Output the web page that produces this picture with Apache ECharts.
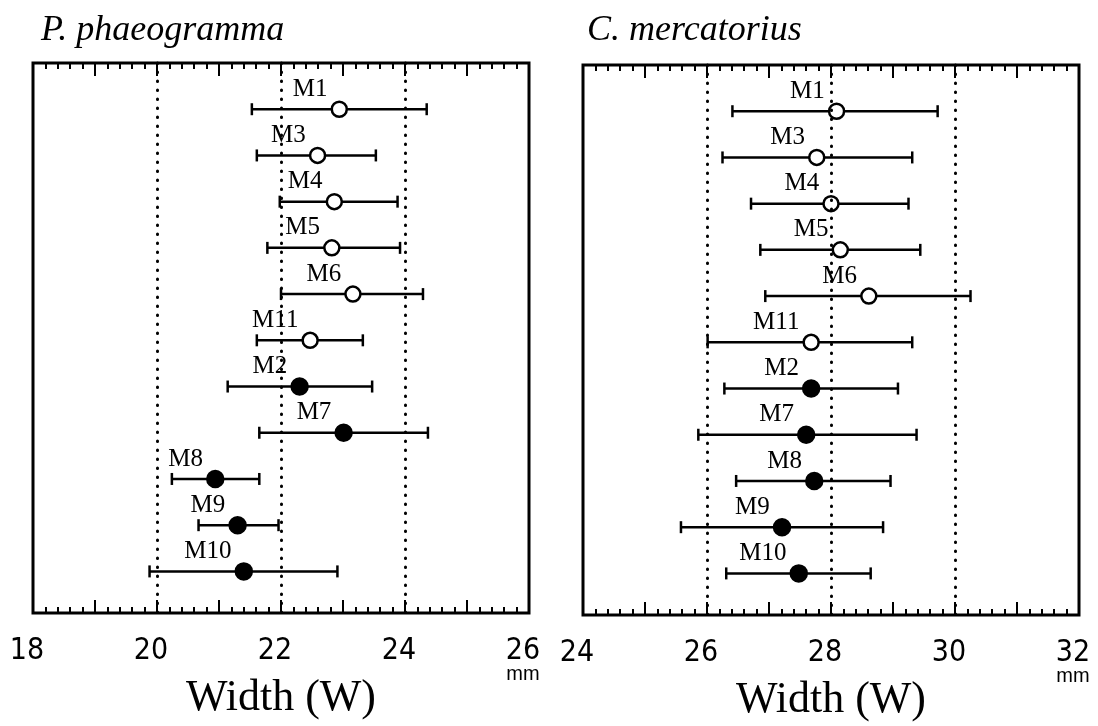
<!DOCTYPE html>
<html>
<head>
<meta charset="utf-8">
<script src="https://cdn.jsdelivr.net/npm/echarts@6/dist/echarts.min.js"></script>
<style>html,body{margin:0;padding:0;background:#fff;}#c{width:1098px;height:726px;}</style>
</head>
<body>
<div id="c"></div>
<script>
// ---- data ----
const rows = ['M1','M3','M4','M5','M6','M11','M2','M7','M8','M9','M10'];
const filled = [false,false,false,false,false,false,true,true,true,true,true];

const phaeoMean = [22.94, 22.59, 22.86, 22.82, 23.16, 22.47, 22.30, 23.01, 20.94, 21.30, 21.40];
const phaeoLow  = [21.53, 21.61, 21.98, 21.78, 22.00, 21.61, 21.14, 21.65, 20.24, 20.67, 19.88];
const phaeoHigh = [24.35, 23.53, 23.88, 23.92, 24.29, 23.32, 23.47, 24.37, 21.65, 21.96, 22.91];

const mercMean = [28.09, 27.77, 28.00, 28.15, 28.61, 27.68, 27.68, 27.60, 27.73, 27.21, 27.48];
const mercLow  = [26.41, 26.25, 26.71, 26.86, 26.94, 26.01, 26.28, 25.86, 26.47, 25.58, 26.31];
const mercHigh = [29.72, 29.31, 29.25, 29.44, 30.25, 29.31, 29.08, 29.38, 28.96, 28.84, 28.64];

const titles = ['P. phaeogramma', 'C. mercatorius'];
const xRanges = [[18, 26], [24, 32]];
const refLines = [[20, 22, 24], [26, 28, 30]];
const axisName = 'Width (W)';
const unitLabel = 'mm';

// ---- chart ----
const chart = echarts.init(document.getElementById('c'));
const SERIF = "'Liberation Serif', 'Times New Roman', serif";
const SANS = "'Liberation Sans Narrow', 'DejaVu Sans Condensed', 'Liberation Sans', sans-serif";

const grids = [
  {left: 33, right: 1098 - 529, top: 63, height: 550},
  {left: 583, right: 1098 - 1079, top: 65, height: 550}
];
grids.forEach(g => Object.assign(g, {
  show: true, borderColor: '#000', borderWidth: 3, backgroundColor: 'transparent',
  containLabel: false, outerBoundsMode: 'none'
}));

function xAxisFor(gi, pos) {
  const [mn, mx] = xRanges[gi];
  return {
    type: 'value', gridIndex: gi, position: pos, min: mn, max: mx, interval: 1,
    axisLine: {show: false, onZero: false},
    axisTick: {show: true, inside: true, length: 13, lineStyle: {color: '#000', width: 2}},
    minorTick: {show: true, splitNumber: 5, length: 6, lineStyle: {color: '#000', width: 2}},
    splitLine: {show: false}, minorSplitLine: {show: false},
    name: pos === 'bottom' ? axisName : '',
    nameLocation: 'middle', nameGap: 63, nameMoveOverlap: false,
    nameTextStyle: {fontFamily: SERIF, fontSize: 44, color: '#000'},
    axisLabel: pos === 'bottom' ? {
      show: true, margin: 22, showMinLabel: true, showMaxLabel: true,
      padding: [0, 12, 0, 0],
      formatter: function (v) {
        const r = Math.round(v);
        if (r % 2 !== 0) return '';
        return r === mx ? '{n|' + r + '}\n{m|' + unitLabel + '}' : '{n|' + r + '}';
      },
      rich: {
        n: {fontFamily: SANS, fontSize: 30, lineHeight: 32, color: '#000'},
        m: {fontFamily: "'Liberation Sans', sans-serif", fontSize: 20, lineHeight: 14, color: '#000'}
      }
    } : {show: false}
  };
}

const xAxes = [xAxisFor(0, 'bottom'), xAxisFor(0, 'top'), xAxisFor(1, 'bottom'), xAxisFor(1, 'top')];
const yAxes = [0, 1].map(gi => ({
  type: 'value', gridIndex: gi, min: 0, max: 11.9, inverse: true, show: false
}));

function buildSeries(gi, xIdx, low, high, mean) {
  const barData = rows.map((r, i) => [low[i], high[i], i + 1]);
  const ptData = rows.map((r, i) => ({
    name: r,
    value: [mean[i], i + 1],
    symbolSize: filled[i] ? 16 : 15,
    itemStyle: {color: filled[i] ? '#000' : '#fff', borderColor: '#000', borderWidth: 2.5, opacity: 1}
  }));
  return [
    {
      type: 'custom', xAxisIndex: xIdx, yAxisIndex: gi, data: barData,
      encode: {x: [0, 1], y: 2},
      renderItem: function (params, api) {
        const a = api.coord([api.value(0), api.value(2)]);
        const b = api.coord([api.value(1), api.value(2)]);
        const st = {stroke: '#000', lineWidth: 2.5};
        return {
          type: 'group',
          children: [
            {type: 'line', shape: {x1: a[0], y1: a[1], x2: b[0], y2: b[1]}, style: st},
            {type: 'line', shape: {x1: a[0], y1: a[1] - 6, x2: a[0], y2: a[1] + 6}, style: st},
            {type: 'line', shape: {x1: b[0], y1: b[1] - 6, x2: b[0], y2: b[1] + 6}, style: st}
          ]
        };
      },
      markLine: {
        silent: true, symbol: 'none', animation: false,
        label: {show: false},
        lineStyle: {color: '#000', width: 3, type: [0.5, 8.5], cap: 'round', opacity: 1},
        data: refLines[gi].map(v => ({xAxis: v}))
      },
      z: 2
    },
    {
      type: 'scatter', xAxisIndex: xIdx, yAxisIndex: gi, data: ptData,
      symbol: 'circle',
      itemStyle: {opacity: 1},
      label: {
        show: true, formatter: '{b}', position: 'left', distance: 5, offset: [2, -20],
        fontFamily: SERIF, fontSize: 25, color: '#000', opacity: 1
      },
      z: 3
    }
  ];
}

const option = {
  backgroundColor: '#fff',
  animation: false,
  title: [
    {text: titles[0], left: 36, top: 8, textStyle: {fontFamily: SERIF, fontStyle: 'italic', fontWeight: 'normal', fontSize: 36, color: '#000'}},
    {text: titles[1], left: 582, top: 8, textStyle: {fontFamily: SERIF, fontStyle: 'italic', fontWeight: 'normal', fontSize: 36, color: '#000'}}
  ],
  grid: grids,
  xAxis: xAxes,
  yAxis: yAxes,
  series: [].concat(
    buildSeries(0, 0, phaeoLow, phaeoHigh, phaeoMean),
    buildSeries(1, 2, mercLow, mercHigh, mercMean)
  )
};
chart.setOption(option);
</script>
</body>
</html>
